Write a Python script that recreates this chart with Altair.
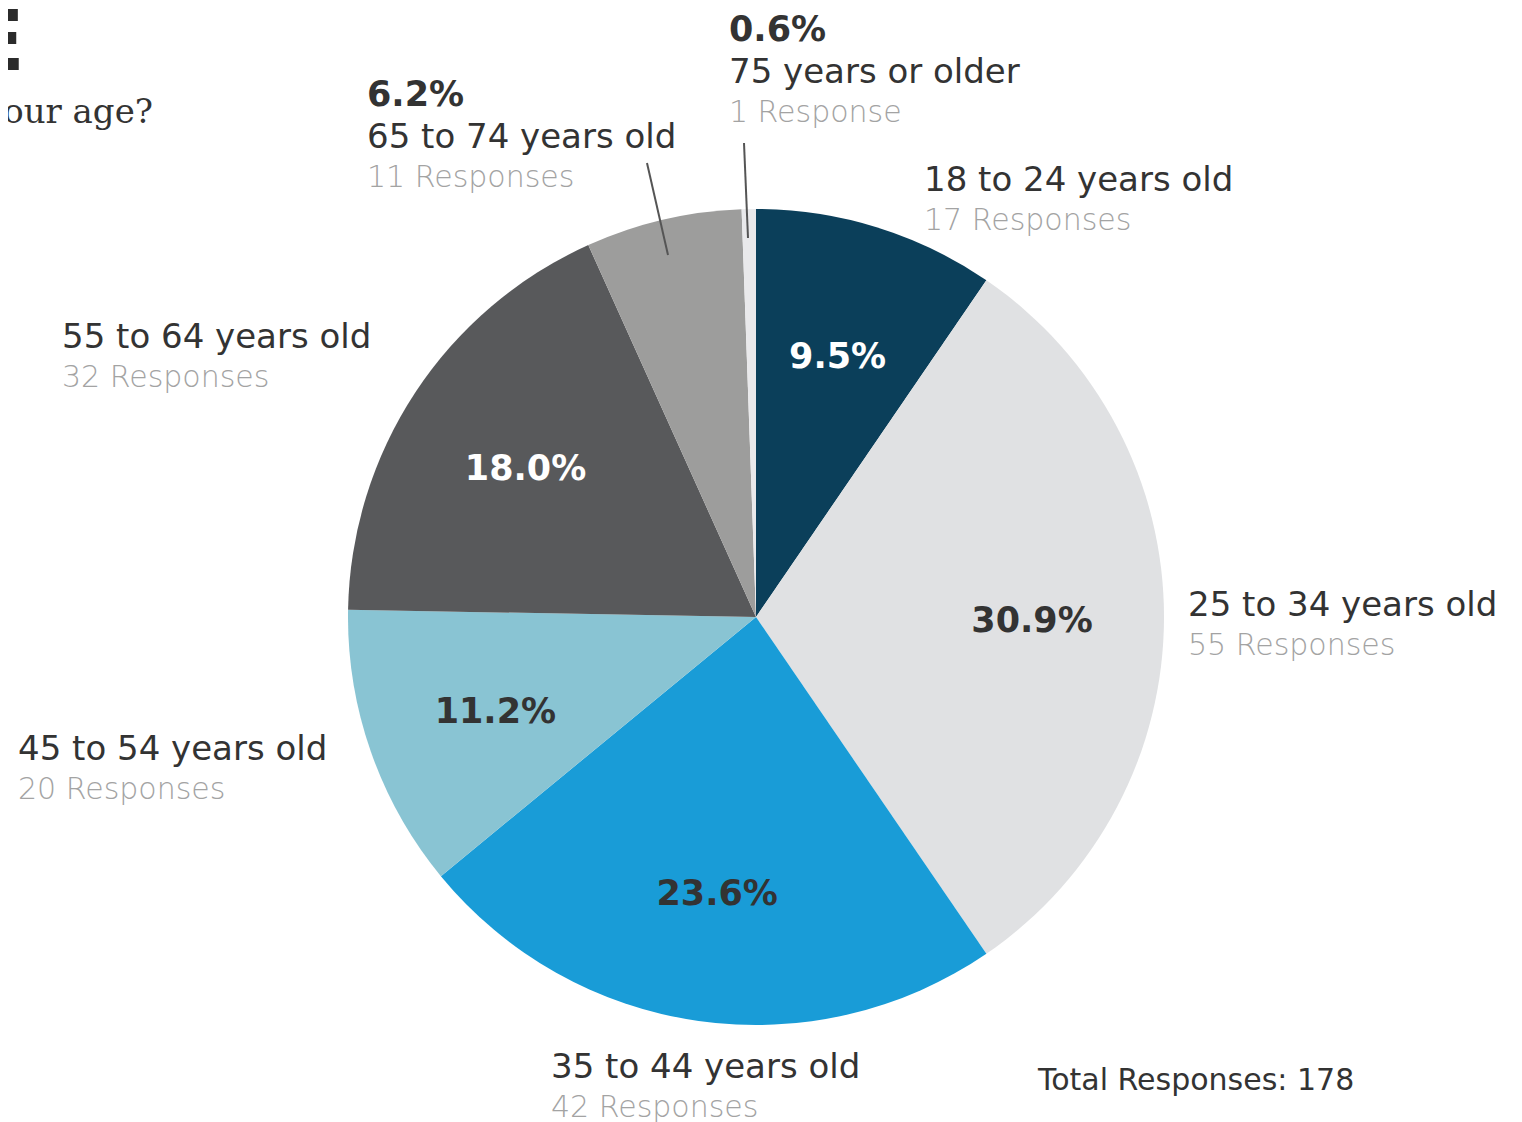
import altair as alt
import pandas as pd

# ---- data ----
ages = ["18 to 24 years old", "25 to 34 years old", "35 to 44 years old",
        "45 to 54 years old", "55 to 64 years old", "65 to 74 years old",
        "75 years or older"]
responses = [17, 55, 42, 20, 32, 11, 1]
pct_labels = ["9.5%", "30.9%", "23.6%", "11.2%", "18.0%", "6.2%", "0.6%"]
count_labels = ["17 Responses", "55 Responses", "42 Responses", "20 Responses",
                "32 Responses", "11 Responses", "1 Response"]
inner_shown = [True, True, True, True, True, False, False]
colors = ["#0b3f5a", "#e0e1e3", "#199cd7", "#89c4d3", "#58595b", "#9d9d9c", "#e9e9eb"]

title_word = "AGE"
question = "What is your age?"
total_text = f"Total Responses: {sum(responses)}"

df = pd.DataFrame({
    "idx": list(range(len(ages))),
    "age": ages,
    "responses": responses,
    "pct": pct_labels,
    "count": count_labels,
    "inner": [p if s else "" for p, s in zip(pct_labels, inner_shown)],
})

# ---- layout ----
FONT = "DejaVu Sans"
CX, CY, R = 748, 609, 408
DARK = "#333333"
GREY = "#a3a3a3"

base = alt.Chart(df)
theta = alt.Theta("responses:Q", stack=True)
order = alt.Order("idx:Q")

pie = base.mark_arc(radius=R).encode(
    theta=theta,
    order=order,
    color=alt.Color("age:N", scale=alt.Scale(domain=ages, range=colors), legend=None),
    x=alt.value(CX), y=alt.value(CY),
)

inner = base.mark_text(radius=276, font=FONT, fontWeight="bold", fontSize=35,
                       align="center", baseline="middle", dy=4).encode(
    theta=theta,
    order=order,
    text="inner:N",
    color=alt.condition(alt.FieldOneOfPredicate(field="age", oneOf=[ages[0], ages[4]]),
                        alt.value("white"), alt.value(DARK)),
    x=alt.value(CX), y=alt.value(CY),
)

# label anchor (left x, name-line centre y) and whether the percentage sits above
label_layout = {
    ages[0]: (916, 173, False),
    ages[1]: (1180, 598, False),
    ages[2]: (543, 1060, False),
    ages[3]: (10, 742, False),
    ages[4]: (54, 330, False),
    ages[5]: (359, 130, True),
    ages[6]: (721, 65, True),
}

layers = [pie, inner]
for a, (lx, ly, show_pct) in label_layout.items():
    sub = base.transform_filter(alt.datum.age == a)
    if show_pct:
        layers.append(sub.mark_text(font=FONT, fontWeight="bold", fontSize=35, align="left",
                                    baseline="middle", color=DARK).encode(
            text="pct:N", x=alt.value(lx), y=alt.value(ly - 43)))
    layers.append(sub.mark_text(font=FONT, fontSize=34, align="left",
                                baseline="middle", color=DARK).encode(
        text="age:N", x=alt.value(lx), y=alt.value(ly)))
    layers.append(sub.mark_text(font=FONT, fontSize=30, align="left", fontWeight=300,
                                baseline="middle", color=GREY).encode(
        text="count:N", x=alt.value(lx), y=alt.value(ly + 40)))

one = alt.Chart(pd.DataFrame({"k": [0]}))

leaders = [
    one.mark_rule(color="#555555", strokeWidth=2).encode(
        x=alt.value(639), y=alt.value(155), x2=alt.value(660), y2=alt.value(247)),
    one.mark_rule(color="#555555", strokeWidth=2).encode(
        x=alt.value(736), y=alt.value(135), x2=alt.value(740), y2=alt.value(230)),
]
layers += leaders

layers.append(one.mark_text(font=FONT, fontWeight="bold", fontSize=84, align="right",
                            baseline="alphabetic", color="#2b2b2b").encode(
    text=alt.value(title_word), x=alt.value(17), y=alt.value(62)))
layers.append(one.mark_text(font="DejaVu Serif", fontSize=34, align="right",
                            baseline="alphabetic", color=DARK).encode(
    text=alt.value(question), x=alt.value(145), y=alt.value(115)))
layers.append(one.mark_text(font=FONT, fontSize=30, align="left",
                            baseline="middle", color=DARK).encode(
    text=alt.value(total_text), x=alt.value(1030), y=alt.value(1073)))

chart = alt.layer(*layers).properties(
    width=1506, height=1114, autosize="none", padding=0
).configure_view(stroke=None)

chart.save("out.html", embed_options={"renderer": "svg", "actions": False})
